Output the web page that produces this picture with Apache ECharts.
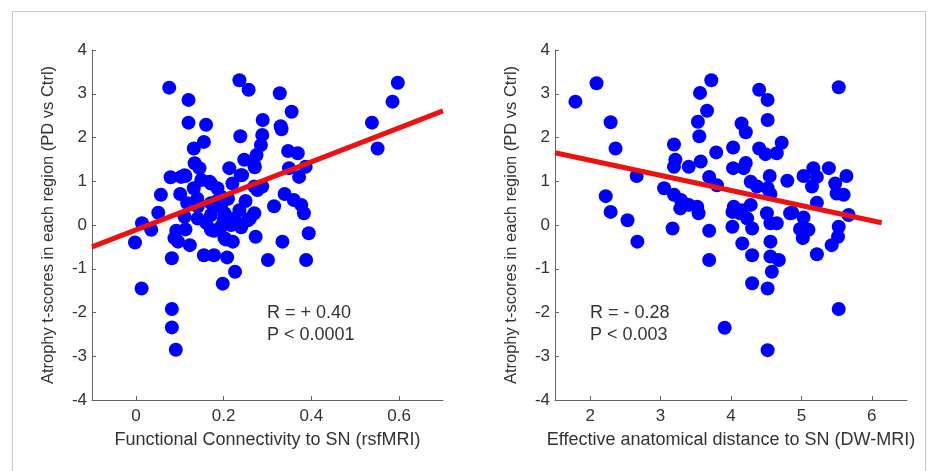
<!DOCTYPE html>
<html>
<head>
<meta charset="utf-8">
<script src="https://cdn.jsdelivr.net/npm/echarts@6/dist/echarts.min.js"></script>
<style>
    html, body { margin: 0; padding: 0; background: #fff; }
    #main { width: 937px; height: 471px; }
</style>
</head>
<body>
<div id="main"></div>
<script>
// 左图: 功能连接 vs 萎缩 t 值
var fcPoints = [
    [0.076, 3.14], [0.12, 2.86], [0.12, 2.34], [0.16, 2.29], [0.155, 1.90], [0.132, 1.75], [0.134, 1.41], [0.145, 1.30],
    [0.236, 3.31], [0.257, 3.09], [0.328, 3.01], [0.355, 2.59], [0.33, 2.26], [0.332, 2.19], [0.289, 2.40], [0.288, 2.06],
    [0.285, 1.83], [0.275, 1.60], [0.238, 2.03], [0.247, 1.49], [0.271, 1.32], [0.213, 1.30], [0.22, 0.95], [0.242, 1.14],
    [0.347, 1.69], [0.369, 1.64], [0.349, 1.30], [0.372, 1.10], [0.387, 1.33],
    [0.538, 2.34], [0.551, 1.75], [0.585, 2.82], [0.597, 3.25],
    [0.079, 1.09], [0.103, 1.10], [0.113, 1.12], [0.057, 0.69], [0.101, 0.71], [0.051, 0.28], [0.014, 0.04], [0.035, -0.11],
    [0.132, 0.84], [0.168, 0.99], [0.186, 0.84], [0.194, 0.65], [0.117, 0.50], [0.27, 0.88], [0.288, 0.88], [0.315, 0.43],
    [0.339, 0.71], [0.36, 0.57], [0.377, 0.46], [0.383, 0.27], [0.236, 0.34], [0.27, 0.27], [0.394, -0.19],
    [-0.002, -0.40], [0.013, -1.45], [0.082, -0.76], [0.082, -1.92], [0.082, -2.34], [0.091, -2.85], [0.092, -0.13],
    [0.096, -0.38], [0.113, -0.10], [0.123, -0.46], [0.155, -0.69], [0.178, -0.69], [0.178, -0.13], [0.208, -0.74],
    [0.198, -1.34], [0.226, -1.07], [0.205, -0.33], [0.221, -0.38], [0.232, 0.02], [0.273, -0.27], [0.26, 0.15],
    [0.334, -0.38], [0.301, -0.80], [0.388, -0.80],
    [0.111, 1.14], [0.149, 1.03], [0.171, 0.95], [0.141, 0.42], [0.171, 0.50], [0.194, 0.42], [0.111, 0.19],
    [0.141, 0.15], [0.171, 0.23], [0.202, 0.27], [0.224, 0.15], [0.255, 0.11], [0.217, 0.0], [0.194, -0.04],
    [0.171, -0.11], [0.088, -0.30], [0.202, -0.30], [0.239, 1.14], [0.27, 1.37], [0.277, 0.80],
    [0.16, 0.05], [0.185, 0.55], [0.21, 0.60], [0.25, 0.55], [0.14, 0.60], [0.20, 0.10], [0.24, -0.05]
];
var fcFit = [[-0.1, -0.50], [0.7, 2.61]];

// 右图: 有效解剖距离 vs 萎缩 t 值
var distPoints = [
    [1.79, 2.82], [2.09, 3.24], [2.29, 2.35], [2.36, 1.75], [2.22, 0.66], [2.29, 0.30], [2.53, 0.11], [2.66, 1.12], [2.67, -0.38],
    [3.19, 1.84], [3.21, 1.49], [3.19, 1.33], [3.40, 1.33], [3.05, 0.84], [3.19, 0.69], [3.29, 0.57], [3.40, 0.46],
    [3.52, 0.42], [3.54, 0.27], [3.28, 0.38], [3.17, -0.08],
    [3.56, 3.02], [3.72, 3.31], [3.66, 2.61], [3.53, 2.36], [3.55, 2.03], [3.57, 1.45], [3.79, 1.66], [3.69, 1.10],
    [3.80, 0.91], [3.69, -0.13], [3.69, -0.80], [3.91, -2.35],
    [4.03, 1.77], [4.03, 1.30], [4.18, 1.30], [4.15, 2.32], [4.21, 2.12], [4.21, 1.42], [4.28, 0.99], [4.37, 0.88],
    [4.52, 0.84], [4.40, 3.09], [4.52, 2.86], [4.52, 2.40], [4.40, 1.75], [4.49, 1.62], [4.65, 1.64], [4.72, 1.88],
    [4.55, 1.12], [4.56, 0.71],
    [4.04, 0.42], [4.02, 0.30], [4.16, 0.34], [4.28, 0.46], [4.13, 0.27], [4.23, 0.15],
    [4.80, 1.01], [5.03, 1.12], [5.17, 1.30], [5.22, 1.10], [5.15, 0.88], [5.22, 0.51], [5.39, 1.30], [5.48, 0.95],
    [5.50, 0.72], [5.60, 0.69], [5.64, 1.12], [5.53, 3.15], [5.67, 0.23], [4.87, 0.28],
    [4.51, 0.27], [4.56, 0.04], [4.65, 0.04], [5.03, 0.17], [4.98, -0.09], [5.10, -0.11], [5.02, -0.30],
    [5.53, -0.04], [5.43, -0.46], [5.52, -0.27], [5.22, -0.67], [5.53, -1.92],
    [4.02, -0.04], [4.30, -0.08], [4.16, -0.42], [4.30, -0.69], [4.30, -1.33], [4.52, -1.45], [4.52, -2.86],
    [4.56, -0.38], [4.56, -0.72], [4.68, -0.80], [4.58, -1.07], [4.84, 0.27]
];
var distFit = [[1.5, 1.65], [6.14, 0.05]];

var xTitles = ['Functional Connectivity to SN (rsfMRI)', 'Effective anatomical distance to SN (DW-MRI)'];
var yTitle = 'Atrophy t-scores in each region (PD vs Ctrl)';
var statTexts = [['R = + 0.40', 'P < 0.0001'], ['R = - 0.28', 'P < 0.003']];

var font = "'Liberation Sans', Arial, sans-serif";
var textColor = '#333';
var axisColor = '#666';

function makeX(idx, min, max) {
    return {
        gridIndex: idx,
        type: 'value',
        min: min,
        max: max,
        name: xTitles[idx],
        nameLocation: 'middle',
        nameGap: 31,
        nameTextStyle: { color: textColor, fontSize: 18, fontFamily: font },
        axisLine: { onZero: false, lineStyle: { color: axisColor, width: 1 } },
        axisTick: { inside: true, length: 4, lineStyle: { color: axisColor } },
        axisLabel: {
            color: textColor, fontSize: 17, fontFamily: font, margin: 8,
            showMinLabel: false, showMaxLabel: false
        },
        splitLine: { show: false }
    };
}

function makeY(idx) {
    return {
        gridIndex: idx,
        type: 'value',
        min: -4,
        max: 4,
        interval: 1,
        name: yTitle,
        nameLocation: 'middle',
        nameGap: 35,
        nameTextStyle: { color: textColor, fontSize: 16.5, fontFamily: font },
        axisLine: { show: true, onZero: false, lineStyle: { color: axisColor, width: 1 } },
        axisTick: { show: true, inside: true, length: 4, lineStyle: { color: axisColor } },
        axisLabel: { color: textColor, fontSize: 17, fontFamily: font, margin: 5 },
        splitLine: { show: false }
    };
}

function dots(idx, data) {
    return {
        type: 'scatter',
        xAxisIndex: idx,
        yAxisIndex: idx,
        symbol: 'circle',
        symbolSize: 14,
        itemStyle: { color: '#0000ff', opacity: 1 },
        data: data,
        z: 2
    };
}

function fit(idx, data) {
    return {
        type: 'line',
        xAxisIndex: idx,
        yAxisIndex: idx,
        data: data,
        showSymbol: false,
        lineStyle: { color: '#ee1111', width: 5 },
        z: 5
    };
}

var option = {
    backgroundColor: '#fff',
    animation: false,
    grid: [
        { left: 92, right: 494, top: 50, bottom: 71 },
        { left: 555, right: 30, top: 50, bottom: 71 }
    ],
    xAxis: [makeX(0, -0.1, 0.7), makeX(1, 1.5, 6.5)],
    yAxis: [makeY(0), makeY(1)],
    series: [
        dots(0, fcPoints),
        fit(0, fcFit),
        dots(1, distPoints),
        fit(1, distFit)
    ],
    graphic: [
        // 外框
        {
            type: 'rect',
            shape: { x: 12.5, y: 11.5, width: 913, height: 480 },
            style: { fill: 'none', stroke: '#c8c8c8', lineWidth: 1 },
            silent: true
        },
        {
            type: 'text', left: 267, top: 302,
            style: { text: statTexts[0].join('\n'), font: '18px ' + font, fill: textColor, lineHeight: 22 }
        },
        {
            type: 'text', left: 590, top: 302,
            style: { text: statTexts[1].join('\n'), font: '18px ' + font, fill: textColor, lineHeight: 22 }
        }
    ]
};

var mychart = echarts.init(document.getElementById('main'));
mychart.setOption(option);
</script>
</body>
</html>
